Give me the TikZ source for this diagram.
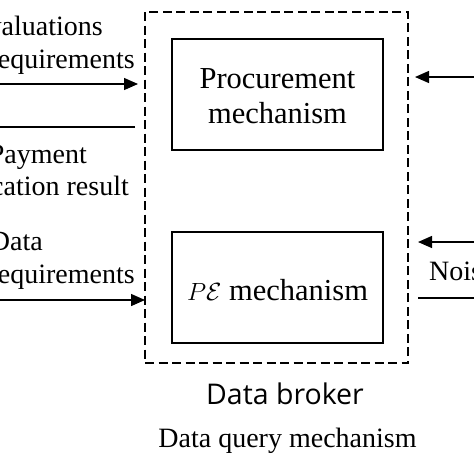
\documentclass[tikz,border=0pt]{standalone}
\usepackage{fontspec}
\setmainfont{Liberation Serif}
\newfontfamily\brokerfont{Open Sans}
\usetikzlibrary{arrows.meta}
\tikzset{
  mechbox/.style={draw, line width=1.8pt, inner sep=0pt},
  brokerbox/.style={draw, line width=1.6pt, dash pattern=on 9pt off 4.5pt, inner sep=0pt},
  lbl/.style={inner sep=0pt, font=\fontsize{28}{33}\selectfont},
  boxtxt/.style={inner sep=0pt, font=\fontsize{30.5}{35}\selectfont},
  arr/.style={line width=1.4pt, -{Triangle[length=14pt,width=12pt]}},
  plain/.style={line width=1.4pt}
}
\begin{document}
\begin{tikzpicture}[x=1pt,y=-1pt]
\useasboundingbox (0,0) rectangle (474,474);
\clip (0,0) rectangle (474,474);
% dashed data broker frame
\draw[brokerbox] (145,12) rectangle (408,363);
% inner boxes
\node[mechbox, minimum width=211pt, minimum height=111pt] (proc) at (277.5,94.5) {};
\node[mechbox, minimum width=211pt, minimum height=111pt] (pe) at (277.5,287.5) {};
\node[boxtxt, anchor=base] (proct1) at (277.5,88) {Procurement};
\node[boxtxt, anchor=base] (proct2) at (277.5,123) {mechanism};
\node[boxtxt, anchor=base] (pet) at (277.5,300) {$P\mathcal{E}$ mechanism};
% captions
\node[inner sep=0pt, anchor=base, font=\brokerfont\fontsize{28.5}{33}\selectfont] (brk) at (285,404) {Data broker};
\node[inner sep=0pt, anchor=base, font=\fontsize{28}{32}\selectfont] (dq) at (287.5,447) {Data query mechanism};
% left labels
\node[lbl, anchor=base east] (l1) at (103,35) {Evaluations};
\node[lbl, anchor=base east] (l2) at (135,68) {requirements};
\node[lbl, anchor=base east] (l3) at (87,163) {Payment};
\node[lbl, anchor=base east] (l4) at (129,195) {Allocation result};
\node[lbl, anchor=base east] (l5) at (43,250) {Data};
\node[lbl, anchor=base east] (l6) at (135,283) {requirements};
% right label
\node[lbl, anchor=base west] (r1) at (429,280) {Noise};
% connector end points
\coordinate (a1s) at (-5,84);
\coordinate (a1e) at (138,84);
\coordinate (b1s) at (135,127);
\coordinate (b1e) at (-5,127);
\coordinate (a2s) at (-5,300);
\coordinate (a2e) at (145,300);
\coordinate (a3s) at (480,77);
\coordinate (a3e) at (415,77);
\coordinate (a4s) at (480,242);
\coordinate (a4e) at (418,242);
\coordinate (b2s) at (418,298);
\coordinate (b2e) at (480,298);
% connectors
\draw[arr] (a1s) -- (a1e);
\draw[plain] (b1s) -- (b1e);
\draw[arr] (a2s) -- (a2e);
\draw[arr] (a3s) -- (a3e);
\draw[arr] (a4s) -- (a4e);
\draw[plain] (b2s) -- (b2e);
\end{tikzpicture}
\end{document}
